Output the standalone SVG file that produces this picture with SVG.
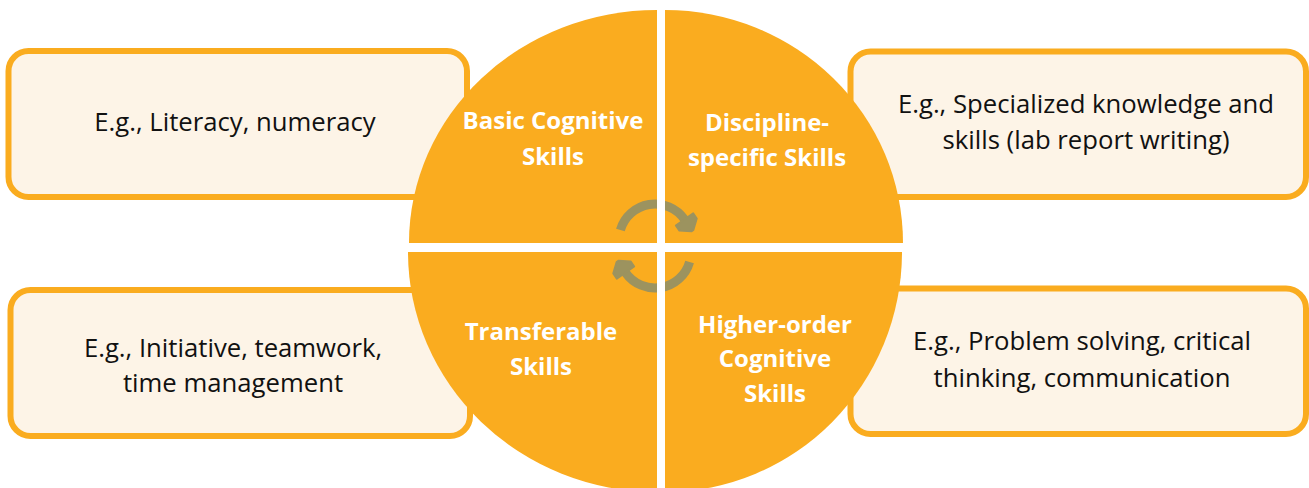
<svg xmlns="http://www.w3.org/2000/svg" width="1309" height="488" viewBox="0 0 1309 488">
<style>
.box{fill:#FDF4E7;stroke:#FAAC1F;stroke-width:6}
.q{fill:#FAAC1F}
.t{font-family:"Open Sans",Lato,sans-serif;font-size:25.7px;fill:#111111;text-anchor:middle}
.w{font-family:"Open Sans",Lato,sans-serif;font-size:24px;font-weight:bold;fill:#FFFFFF;text-anchor:middle}
.arc{fill:none;stroke:#9C935F;stroke-width:9}
</style>
<defs>
<marker id="head" markerUnits="userSpaceOnUse" markerWidth="30" markerHeight="30" refX="0" refY="0" viewBox="-2 -12 18 24" orient="auto" overflow="visible">
<path d="M0,-8.5 L5,-8.5 L11,-1 L11,1 L5,8.5 L0,8.5 Z" fill="#9C935F" stroke="#9C935F" stroke-width="1.5" stroke-linejoin="round"/>
</marker>
</defs>
<g id="box-basic"><rect class="box" x="8.5" y="51" width="458.5" height="146" rx="20"/>
<text class="t" x="235" y="131">E.g., Literacy, numeracy</text></g>
<g id="box-discipline"><rect class="box" x="850.5" y="51.5" width="455.5" height="145.5" rx="20"/>
<text class="t" x="1086" y="113">E.g., Specialized knowledge and</text>
<text class="t" x="1086" y="148.5">skills (lab report writing)</text></g>
<g id="box-transferable"><rect class="box" x="10.5" y="290" width="459.5" height="146" rx="20"/>
<text class="t" x="233" y="357">E.g., Initiative, teamwork,</text>
<text class="t" x="233" y="392">time management</text></g>
<g id="box-higher"><rect class="box" x="850.5" y="288.5" width="455.5" height="145.5" rx="20"/>
<text class="t" x="1082" y="350">E.g., Problem solving, critical</text>
<text class="t" x="1082" y="386.5">thinking, communication</text></g>
<g id="q-basic"><path class="q" d="M657,243 L409,243 A248,233 0 0 1 657,10 Z"/>
<text class="w" x="553" y="129">Basic Cognitive</text><text class="w" x="553" y="165">Skills</text></g>
<g id="q-discipline"><path class="q" d="M665,243 L665,10 A238,233 0 0 1 903,243 Z"/>
<text class="w" x="767" y="131">Discipline-</text><text class="w" x="767" y="166">specific Skills</text></g>
<g id="q-transferable"><path class="q" d="M657,252 L657,492 A249,240 0 0 1 408,252 Z"/>
<text class="w" x="541" y="340">Transferable</text><text class="w" x="541" y="375">Skills</text></g>
<g id="q-higher"><path class="q" d="M665,252 L902,252 A237,240 0 0 1 665,492 Z"/>
<text class="w" x="775" y="333">Higher-order</text><text class="w" x="775" y="367">Cognitive</text><text class="w" x="775" y="402">Skills</text></g>
<g id="connectors">
<path class="arc" d="M620.4,230.1 A36,36 0 0 1 684.5,219.4" marker-end="url(#head)"/>
<path class="arc" d="M620.4,230.1 A36,36 0 0 1 684.5,219.4" marker-end="url(#head)" transform="rotate(180 655 246)"/>
<rect x="657" y="190" width="8" height="110" fill="#FFFFFF"/>
</g>
</svg>
